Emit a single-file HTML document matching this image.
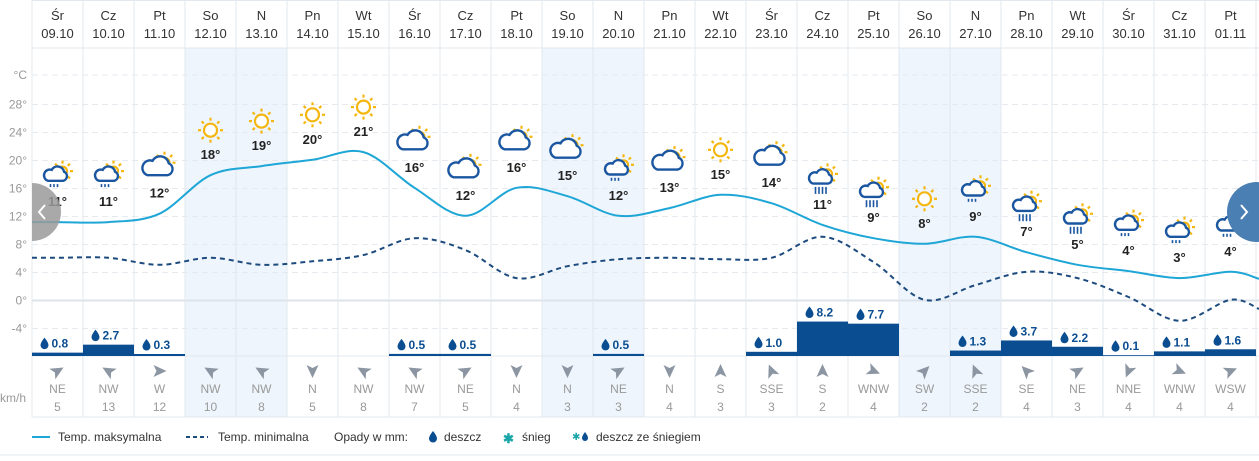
<!DOCTYPE html>
<html><head><meta charset="utf-8"><style>
html,body{margin:0;padding:0;background:#fff;}
body{width:1259px;height:456px;overflow:hidden;font-family:"Liberation Sans",sans-serif;}
svg text{font-family:"Liberation Sans",sans-serif;}
</style></head><body>
<svg id="chart" width="1259" height="456" xmlns="http://www.w3.org/2000/svg"></svg>
<script>
const days=["Śr","Cz","Pt","So","N","Pn","Wt","Śr","Cz","Pt","So","N","Pn","Wt","Śr","Cz","Pt","So","N","Pn","Wt","Śr","Cz","Pt"];
const dates=["09.10","10.10","11.10","12.10","13.10","14.10","15.10","16.10","17.10","18.10","19.10","20.10","21.10","22.10","23.10","24.10","25.10","26.10","27.10","28.10","29.10","30.10","31.10","01.11"];
const weekend=[3,4,10,11,17,18];
const tempMax=[11.2,11.2,12.4,17.9,19.2,20.1,21.2,16.1,12.1,16.1,14.9,12.1,13.2,15.1,13.9,10.8,8.9,8.1,9.1,6.9,5.1,4.2,3.2,4.1];
const tempMaxLabels=[11,11,12,18,19,20,21,16,12,16,15,12,13,15,14,11,9,8,9,7,5,4,3,4];
const tempMin=[6.1,6.1,5.1,6.1,5.1,5.6,6.5,8.9,7.2,3.2,4.9,5.9,6.1,5.9,6.1,9.1,5.5,0.1,2.2,4.1,3.2,0.5,-2.9,0.1];
const icons=["rainsun","rainsun","cloudsun","sun","sun","sun","sun","cloudsun","cloudsun","cloudsun","cloudsun","rainsun","cloudsun","sun","cloudsun","heavy","heavy","sun","rainsun","heavy","heavy","rainsun","rainsun","rainsun"];
const precip=[0.8,2.7,0.3,0,0,0,0,0.5,0.5,0,0,0.5,0,0,1.0,8.2,7.7,0,1.3,3.7,2.2,0.1,1.1,1.6];
const windDir=["NE","NW","W","NW","NW","N","NW","NW","NE","N","N","NE","N","S","SSE","S","WNW","SW","SSE","SE","NE","NNE","WNW","WSW"];
const windSpeed=[5,13,12,10,8,5,8,7,5,4,3,3,4,3,3,2,4,2,2,4,3,4,4,4];
const yTicks=[28,24,20,16,12,8,4,0,-4];

const NS="http://www.w3.org/2000/svg";
const svg=document.getElementById('chart');
const X0=32,CW=51,N=days.length;
const cx=i=>X0+CW*i+CW/2;
const ty=t=>300.5-7*t;
const BASE=356,PPM=4.2;
function el(tag,attrs,parent){const e=document.createElementNS(NS,tag);for(const k in attrs)e.setAttribute(k,attrs[k]);(parent||svg).appendChild(e);return e;}
function txt(x,y,s,attrs,parent){const t=el('text',Object.assign({x:x,y:y},attrs),parent);t.textContent=s;return t;}

const defs=el('defs',{});
const cp=el('clipPath',{id:'plotclip'},defs);
el('rect',{x:32,y:0,width:1227,height:456},cp);

weekend.forEach(i=>{const r=el('rect',{x:X0+CW*i,y:48,width:CW,height:369,fill:'#eef5fc'});

});
yTicks.forEach(t=>{const y=ty(t);
const l=el('line',{x1:X0,x2:1259,y1:y,y2:y,stroke:t===0?'#dde3ea':'#e6eaef','stroke-width':t===0?2:1,'stroke-dasharray':t===0?'':'6 4'});


const lb=txt(27,y+4,t+'°',{'text-anchor':'end','font-size':12,fill:'#999'});

});
const cu=txt(27,79,'°C',{'text-anchor':'end','font-size':12,fill:'#999'});


el('line',{x1:X0,x2:1259,y1:75,y2:75,stroke:'#e6eaef','stroke-dasharray':'6 4'});
for(let i=0;i<=N;i++){el('line',{x1:X0+CW*i,x2:X0+CW*i,y1:0,y2:417,stroke:'#e3e8ee'});}
el('line',{x1:X0,x2:1259,y1:48,y2:48,stroke:'#e3e8ee'});
el('line',{x1:X0,x2:1259,y1:0.5,y2:0.5,stroke:'#e3e8ee'});
el('line',{x1:X0,x2:1259,y1:BASE,y2:BASE,stroke:'#e3e8ee'});
el('line',{x1:X0,x2:1259,y1:417,y2:417,stroke:'#e3e8ee'});
el('line',{x1:0,x2:1259,y1:455,y2:455,stroke:'#e3e8ee'});
days.forEach((d,i)=>{const g=el('g',{});


txt(cx(i),20,d,{'text-anchor':'middle','font-size':13,fill:'#333'},g);
txt(cx(i),38,dates[i],{'text-anchor':'middle','font-size':13,fill:'#333'},g);});

precip.forEach((p,i)=>{if(!p)return;const h=Math.max(p*PPM,p>=0.3?2:0.8);
const r=el('rect',{x:X0+CW*i,y:BASE-h,width:CW,height:h,fill:'#0a4d91'});


const g=el('g',{});


const ly=BASE-h-5;
el('path',{d:`M${cx(i)-13},${ly-10} q-4,5 -4,7.5 a4,4 0 0 0 8,0 q0,-2.5 -4,-7.5z`,fill:'#0a4d91'},g);
txt(cx(i)-6,ly,p.toFixed(1),{'font-size':12,'font-weight':'bold',fill:'#0a4d91'},g);});

function smooth(vals,x0v,x1v){const pts=vals.map((v,i)=>[cx(i),ty(v)]);
pts.unshift([X0,ty(x0v)]);pts.push([1259,ty(x1v)]);
let d=`M${pts[0][0]},${pts[0][1]}`;
for(let i=0;i<pts.length-1;i++){const p0=pts[Math.max(0,i-1)],p1=pts[i],p2=pts[i+1],p3=pts[Math.min(pts.length-1,i+2)];
const c1=[p1[0]+(p2[0]-p0[0])/6,p1[1]+(p2[1]-p0[1])/6],c2=[p2[0]-(p3[0]-p1[0])/6,p2[1]-(p3[1]-p1[1])/6];
d+=` C${c1[0].toFixed(1)},${c1[1].toFixed(1)} ${c2[0].toFixed(1)},${c2[1].toFixed(1)} ${p2[0]},${p2[1]}`;}
return d;}
const minL=el('path',{d:smooth(tempMin,tempMin[0],tempMin[N-1]-1.3),fill:'none',stroke:'#1d4b7e','stroke-width':2,'stroke-dasharray':'5 4'});


const maxL=el('path',{d:smooth(tempMax,tempMax[0],tempMax[N-1]-1),fill:'none',stroke:'#1ea6d6','stroke-width':2});



const SUN='#f4b60f',CL='#1b56a0';
function sun(g,x,y,r){el('circle',{cx:x,cy:y,r:r,fill:'#fff',stroke:SUN,'stroke-width':2.2},g);
for(let k=0;k<8;k++){const a=k*Math.PI/4;el('line',{x1:x+Math.cos(a)*(r+3),y1:y+Math.sin(a)*(r+3),x2:x+Math.cos(a)*(r+6),y2:y+Math.sin(a)*(r+6),stroke:SUN,'stroke-width':2.2},g);}}
function cloud(g,x,y,s){
el('path',{d:`M${x-8*s},${y+6*s} h${16*s} a${5*s} ${5*s} 0 0 0 ${1*s},${-9.5*s} a${7*s} ${7*s} 0 0 0 ${-13*s},${-2*s} a${5*s} ${5*s} 0 0 0 ${-4*s},${11.5*s}z`,fill:'#fff',stroke:CL,'stroke-width':2.4},g);}
icons.forEach((t,i)=>{const ly=ty(tempMax[i])-21;const iy=ly-26;const x=cx(i);
const g=el('g',{});


if(t==='sun'){sun(g,x,iy+2,6.5);}
else if(t==='cloudsun'){sun(g,x+5,iy-4,5);cloud(g,x-2,iy+1,1.25);}
else{sun(g,x+5,iy-4,4.5);cloud(g,x-2,iy,0.95);
const n=t==='heavy'?4:3;for(let k=0;k<n;k++){el('line',{x1:x-7+k*3.5,y1:iy+9,x2:x-7+k*3.5,y2:iy+(t==='heavy'?16:12),stroke:CL,'stroke-width':1.6},g);}}
const lb=txt(x,ly+5,tempMaxLabels[i]+'°',{'text-anchor':'middle','font-size':13,'font-weight':'bold',fill:'#222'});

});

const ang={N:180,NNE:202.5,NE:60,ENE:247.5,E:270,ESE:292.5,SE:315,SSE:337.5,S:0,SSW:22.5,SW:45,WSW:67.5,W:90,WNW:112.5,NW:300,NNW:157.5};
windDir.forEach((d,i)=>{const x=cx(i);const g=el('g',{});


el('path',{d:'M0,-7 L6,6 L0,3 L-6,6z',fill:'#8c96a3',transform:`translate(${x},371) rotate(${ang[d]})`},g);
txt(x,393,d,{'text-anchor':'middle','font-size':12,fill:'#999'},g);
txt(x,411,windSpeed[i],{'text-anchor':'middle','font-size':12,fill:'#999'},g);});
const ku=txt(0,402,'km/h',{'font-size':12,fill:'#999'});



const nl=el('g',{'clip-path':'url(#plotclip)'});


el('circle',{cx:32,cy:212,r:29,fill:'#9a9a9a',opacity:0.85},nl);
el('path',{d:'M45,205 l-6,7 l6,7',fill:'none',stroke:'#fff','stroke-width':2},nl);
const nr=el('g',{});


el('circle',{cx:1257,cy:212,r:30,fill:'#4a7fb4'},nr);
el('path',{d:'M1241,205 l6,7 l-6,7',fill:'none',stroke:'#fff','stroke-width':2},nr);

const lg=el('g',{});


el('line',{x1:32,x2:50,y1:437,y2:437,stroke:'#1ea6d6','stroke-width':2},lg);
txt(58,441,'Temp. maksymalna',{'font-size':12,fill:'#333'},lg);
el('line',{x1:186,x2:208,y1:437,y2:437,stroke:'#1d4b7e','stroke-width':2,'stroke-dasharray':'4 3'},lg);
txt(218,441,'Temp. minimalna',{'font-size':12,fill:'#333'},lg);
txt(334,441,'Opady w mm:',{'font-size':12,fill:'#333'},lg);
el('path',{d:'M433,431 q-4,5 -4,7.5 a4,4 0 0 0 8,0 q0,-2.5 -4,-7.5z',fill:'#0a4d91'},lg);
txt(444,441,'deszcz',{'font-size':12,fill:'#333'},lg);
txt(503,443,'✱',{'font-size':13,fill:'#1aa6a8','font-weight':'bold'},lg);
txt(522,441,'śnieg',{'font-size':12,fill:'#333'},lg);
txt(572,440,'✱',{'font-size':10,fill:'#1aa6a8'},lg);
el('path',{d:'M585,432 q-3,4 -3,6 a3,3 0 0 0 6,0 q0,-2 -3,-6z',fill:'#0a4d91'},lg);
txt(596,441,'deszcz ze śniegiem',{'font-size':12,fill:'#333'},lg);
</script>
</body></html>
